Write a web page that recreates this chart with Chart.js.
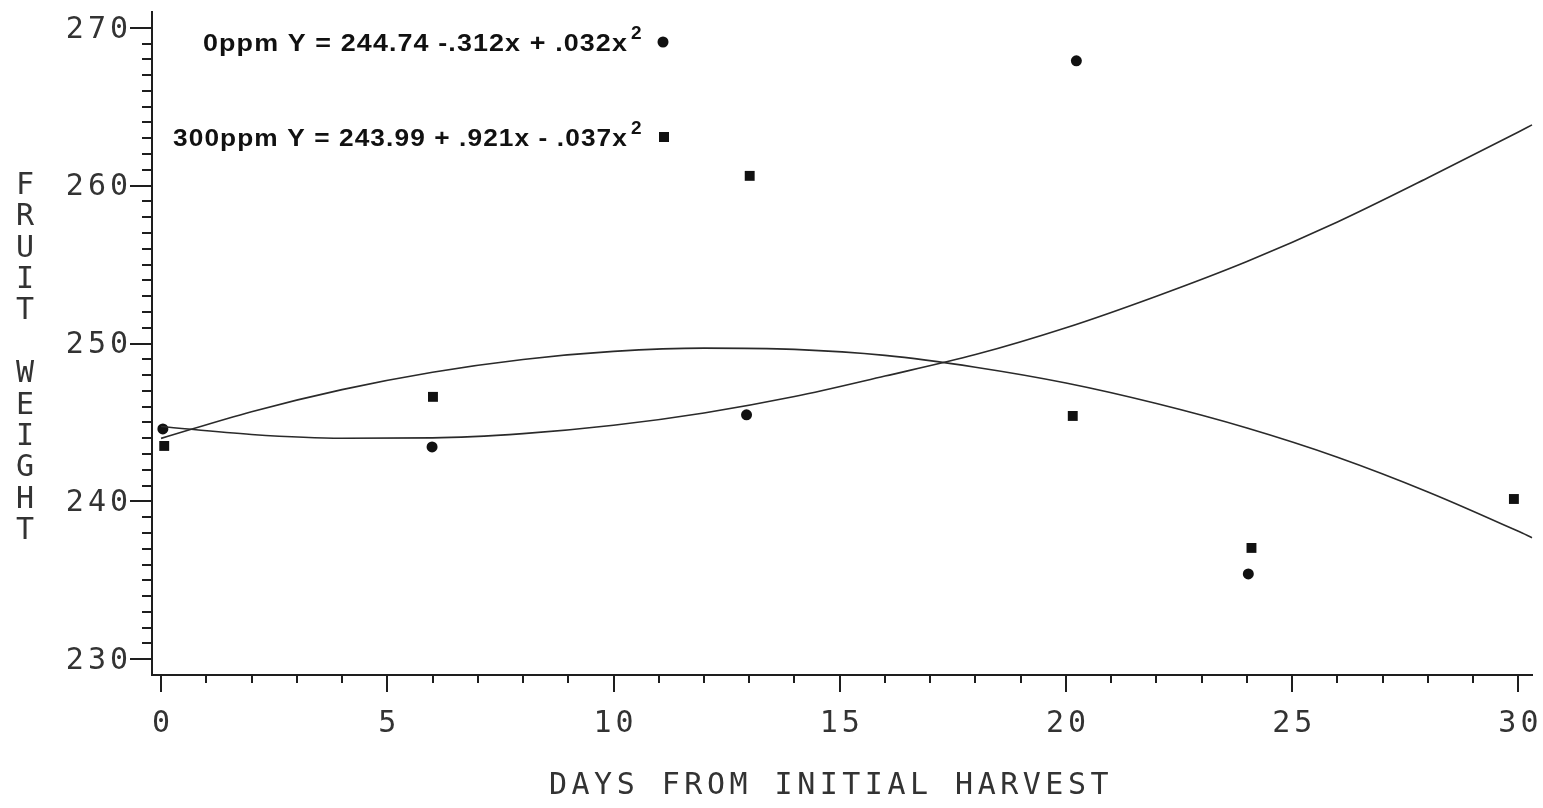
<!DOCTYPE html>
<html>
<head>
<meta charset="utf-8">
<script src="https://cdn.jsdelivr.net/npm/chart.js@4.4.0/dist/chart.umd.min.js"></script>
<style>
  html, body { margin: 0; padding: 0; background: #fff; }
  #wrap { width: 1543px; height: 808px; }
</style>
</head>
<body>
<div id="wrap"><canvas id="fruitChart" width="1543" height="808"></canvas></div>
<script>
// observed means, 0 ppm (circles)
const days0 = [0.04, 5.99, 12.94, 20.23, 24.03]
const weight0 = [244.59, 243.45, 245.48, 267.91, 235.4]

// observed means, 300 ppm (squares)
const days300 = [0.07, 6.01, 13.01, 20.15, 24.1, 29.9]
const weight300 = [243.51, 246.62, 260.62, 245.41, 237.05, 240.15]

// fitted curves
const fitDays = [0, 2, 4, 6, 8, 10, 12, 14, 16, 18, 20, 22, 24, 26, 28, 30, 30.3]
const fit0 = [244.74, 244.24, 244.0, 244.02, 244.29, 244.82, 245.6, 246.64, 247.94, 249.3, 251.0, 253.0, 255.2, 257.7, 260.5, 263.4, 263.85]
const fit300 = [243.99, 245.68, 247.08, 248.18, 248.99, 249.5, 249.71, 249.63, 249.25, 248.5, 247.5, 246.2, 244.65, 242.8, 240.6, 238.1, 237.7]

const xTickLabels = ['0', '5', '10', '15', '20', '25', '30']
const yTickLabels = ['230', '240', '250', '260', '270']
const xTitle = 'DAYS FROM INITIAL HARVEST'
const yTitle = 'FRUIT WEIGHT'
const legendRows = [
  { text: '0ppm Y = 244.74 -.312x + .032x', marker: 'circle' },
  { text: '300ppm Y = 243.99 + .921x - .037x', marker: 'rect' }
]

const ink = '#1e1e1e'
const plotFont = '30px "DejaVu Sans Mono", monospace'

function toPoints( xs, ys ) {
  return xs.map( ( x, i ) => ( { x: x, y: ys[ i ] } ) )
}

const plotterAxes = {
  id: 'plotterAxes',
  afterDraw( chart ) {
    const ctx = chart.ctx
    const xs = chart.scales.x
    const ys = chart.scales.y
    const area = chart.chartArea

    ctx.save()
    ctx.strokeStyle = ink
    ctx.lineWidth = 2

    // y ticks, every unit, long ones at the labels
    for ( let v = 230; v <= 270; v++ ) {
      const py = Math.round( ys.getPixelForValue( v ) )
      const len = v % 10 === 0 ? 22 : 10
      ctx.beginPath()
      ctx.moveTo( area.left - len, py )
      ctx.lineTo( area.left, py )
      ctx.stroke()
    }

    // x ticks hang below the axis
    for ( let d = 0; d <= 30; d++ ) {
      const px = Math.round( xs.getPixelForValue( d ) )
      const len = d % 5 === 0 ? 17 : 8
      ctx.beginPath()
      ctx.moveTo( px, area.bottom )
      ctx.lineTo( px, area.bottom + len )
      ctx.stroke()
    }

    ctx.fillStyle = '#333'
    ctx.font = plotFont
    ctx.letterSpacing = '4px'
    ctx.textBaseline = 'middle'

    ctx.textAlign = 'right'
    yTickLabels.forEach( ( lab ) => {
      ctx.fillText( lab, area.left - 20, ys.getPixelForValue( Number( lab ) ) + 2 )
    } )

    ctx.textAlign = 'center'
    xTickLabels.forEach( ( lab ) => {
      ctx.fillText( lab, xs.getPixelForValue( Number( lab ) ) + 2, area.bottom + 49 )
    } )

    ctx.letterSpacing = '4.5px'
    ctx.fillText( xTitle, 831, area.bottom + 111 )

    // stacked letters for the y title
    ctx.letterSpacing = '0px'
    for ( let i = 0; i < yTitle.length; i++ ) {
      ctx.fillText( yTitle[ i ], 25, 186 + i * 31.4 )
    }

    // legend with equations
    ctx.fillStyle = '#111'
    ctx.textAlign = 'left'
    ctx.textBaseline = 'alphabetic'
    const rows = [
      { x0: 203, x1: 628, y: 51, my: 42 },
      { x0: 173, x1: 628, y: 146, my: 137 }
    ]
    legendRows.forEach( ( row, i ) => {
      const r = rows[ i ]
      ctx.font = 'bold 24px "Liberation Sans", Arial, sans-serif'
      ctx.letterSpacing = '1px'
      const w = ctx.measureText( row.text ).width
      ctx.save()
      ctx.translate( r.x0, r.y )
      ctx.scale( ( r.x1 - r.x0 ) / w, 1 )
      ctx.fillText( row.text, 0, 0 )
      ctx.restore()
      ctx.font = 'bold 19px "Liberation Sans", Arial, sans-serif'
      ctx.fillText( '2', r.x1 + 3, r.y - 12 )

      ctx.beginPath()
      if ( row.marker === 'circle' ) {
        ctx.arc( 663, r.my, 5.5, 0, Math.PI * 2 )
      } else {
        ctx.rect( 659, r.my - 5, 10, 10 )
      }
      ctx.fill()
    } )

    ctx.restore()
  }
}

const ctxFruit = document.getElementById( 'fruitChart' )

new Chart( ctxFruit, {
  type: 'scatter',
  data: {
    datasets: [
      {
        label: '0ppm fit',
        type: 'line',
        data: toPoints( fitDays, fit0 ),
        borderColor: '#2a2a2a',
        borderWidth: 1.6,
        pointRadius: 0,
        cubicInterpolationMode: 'monotone',
        fill: false,
        clip: false
      },
      {
        label: '300ppm fit',
        type: 'line',
        data: toPoints( fitDays, fit300 ),
        borderColor: '#2a2a2a',
        borderWidth: 1.6,
        pointRadius: 0,
        cubicInterpolationMode: 'monotone',
        fill: false,
        clip: false
      },
      {
        label: '0ppm',
        data: toPoints( days0, weight0 ),
        pointStyle: 'circle',
        pointRadius: 5.5,
        backgroundColor: '#111',
        borderColor: '#111',
        borderWidth: 0,
        clip: false
      },
      {
        label: '300ppm',
        data: toPoints( days300, weight300 ),
        pointStyle: 'rect',
        pointRadius: 7,
        backgroundColor: '#111',
        borderColor: '#111',
        borderWidth: 0,
        clip: false
      }
    ]
  },
  options: {
    responsive: false,
    animation: false,
    devicePixelRatio: 1,
    layout: {
      padding: { top: 12, right: 11, left: 0, bottom: 0 }
    },
    plugins: {
      legend: { display: false },
      tooltip: { enabled: false }
    },
    scales: {
      x: {
        type: 'linear',
        min: -0.2,
        max: 30.3,
        grid: { display: false },
        ticks: { display: false },
        border: { display: true, color: ink, width: 2 },
        afterFit( scale ) { scale.height = 133 }
      },
      y: {
        type: 'linear',
        min: 229,
        max: 271,
        grid: { display: false },
        ticks: { display: false },
        border: { display: true, color: ink, width: 2 },
        afterFit( scale ) { scale.width = 152 }
      }
    }
  },
  plugins: [ plotterAxes ]
} )
</script>
</body>
</html>
